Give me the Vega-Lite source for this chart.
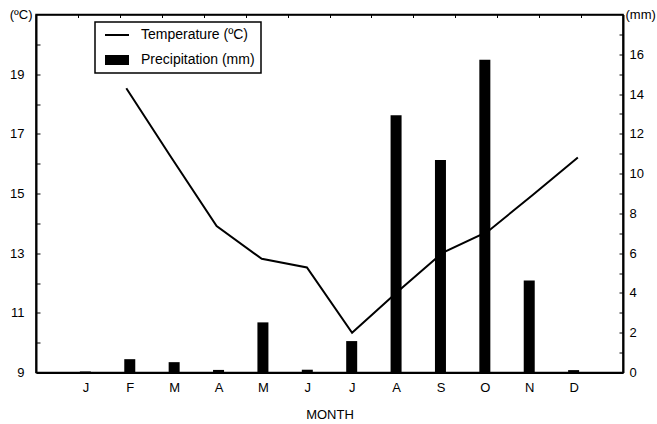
{
  "$schema": "https://vega.github.io/schema/vega-lite/v6.json",
  "width": 587,
  "height": 358,
  "autosize": "none",
  "padding": {"left": 36, "top": 14.5, "right": 34, "bottom": 51.5},
  "background": "white",
  "config": {
    "font": "Liberation Sans",
    "view": {"stroke": "black", "strokeWidth": 1.5},
    "axis": {"labelFont": "Liberation Sans", "titleFont": "Liberation Sans", "labelColor": "black", "titleColor": "black", "domainColor": "black", "tickColor": "black", "grid": false, "labelFontSize": 13, "titleFontSize": 13, "titleFontWeight": "normal", "domainWidth": 2}
  },
  "data": {
    "values": [
      {"m": 1, "temp": null, "precip": 0.05},
      {"m": 2, "temp": 18.53, "precip": 0.67},
      {"m": 3, "temp": 16.2, "precip": 0.52},
      {"m": 4, "temp": 13.91, "precip": 0.13},
      {"m": 5, "temp": 12.81, "precip": 2.52},
      {"m": 6, "temp": 12.52, "precip": 0.14},
      {"m": 7, "temp": 10.33, "precip": 1.58},
      {"m": 8, "temp": 11.7, "precip": 12.94},
      {"m": 9, "temp": 13.01, "precip": 10.69},
      {"m": 10, "temp": 13.72, "precip": 15.72},
      {"m": 11, "temp": 14.95, "precip": 4.63},
      {"m": 12, "temp": 16.21, "precip": 0.12}
    ]
  },
  "layer": [
    {
      "mark": {"type": "bar", "width": 11, "color": "black"},
      "encoding": {
        "x": {
          "field": "m", "type": "quantitative",
          "scale": {"domain": [0, 13], "nice": false, "zero": false},
          "axis": {
            "orient": "bottom", "title": "MONTH", "values": [1,2,3,4,5,6,7,8,9,10,11,12],
            "labelExpr": "['J','F','M','A','M','J','J','A','S','O','N','D'][datum.value-1]",
            "ticks": false, "labelPadding": 9, "titlePadding": 14, "labelFlush": false
          }
        },
        "y": {
          "field": "precip", "type": "quantitative",
          "scale": {"domain": [0, 18], "nice": false},
          "axis": {
            "orient": "right", "title": "(mm)", "values": [0,1,2,3,4,5,6,7,8,9,10,11,12,13,14,15,16,17],
            "labelExpr": "datum.value % 2 == 0 ? datum.label : ''",
            "tickSize": -4, "labelPadding": 10,
            "titleAngle": 0, "titleX": 2, "titleY": 0, "titleAlign": "left", "titleBaseline": "middle"
          }
        },
        "color": {
          "datum": "Precipitation (mm)",
          "scale": {"domain": ["Temperature (ºC)", "Precipitation (mm)"], "range": ["black", "black"]},
          "legend": {
            "orient": "none", "legendX": 59, "legendY": 7.5, "title": null,
            "padding": 6, "rowPadding": 11, "symbolSize": 144, "symbolOffset": 9, "labelOffset": 17,
            "labelFontSize": 14, "labelFont": "Liberation Sans", "labelColor": "black",
            "encode": {
              "symbols": {"update": {
                "shape": {"signal": "datum.value == 'Temperature (ºC)' ? 'M-2,-0.17H2V0.17H-2Z' : 'M-2,-0.83H2V0.83H-2Z'"},
                "fill": {"value": "black"}, "fillOpacity": {"value": 1}, "stroke": {"value": "black"}, "strokeWidth": {"value": 0}
              }},
              "legend": {"update": {"stroke": {"value": "black"}, "strokeWidth": {"value": 1.5}}}
            }
          }
        }
      }
    },
    {
      "mark": {"type": "line", "color": "black", "strokeWidth": 2},
      "encoding": {
        "x": {
          "field": "m", "type": "quantitative",
          "scale": {"domain": [0, 13], "nice": false, "zero": false},
          "axis": null
        },
        "y": {
          "field": "temp", "type": "quantitative",
          "scale": {"domain": [9, 21], "nice": false, "zero": false},
          "axis": {
            "orient": "left", "title": "(ºC)", "values": [9,10,11,12,13,14,15,16,17,18,19,20],
            "labelExpr": "datum.value % 2 == 1 ? datum.label : ''",
            "tickSize": -4, "labelPadding": 16,
            "titleAngle": 0, "titleX": -4, "titleY": 0, "titleAlign": "right", "titleBaseline": "middle"
          }
        },
        "color": {"datum": "Temperature (ºC)"}
      }
    },
    {
      "mark": {"type": "point", "opacity": 0},
      "encoding": {
        "x": {
          "field": "m", "type": "quantitative",
          "scale": {"domain": [0, 14], "nice": false, "zero": false},
          "axis": {
            "orient": "top", "title": null, "values": [1,2,3,4,5,6,7,8,9,10,11,12,13],
            "labels": false, "tickSize": -3, "domainWidth": 1.5
          }
        }
      }
    }
  ],
  "resolve": {"scale": {"x": "independent", "y": "independent"}}
}
